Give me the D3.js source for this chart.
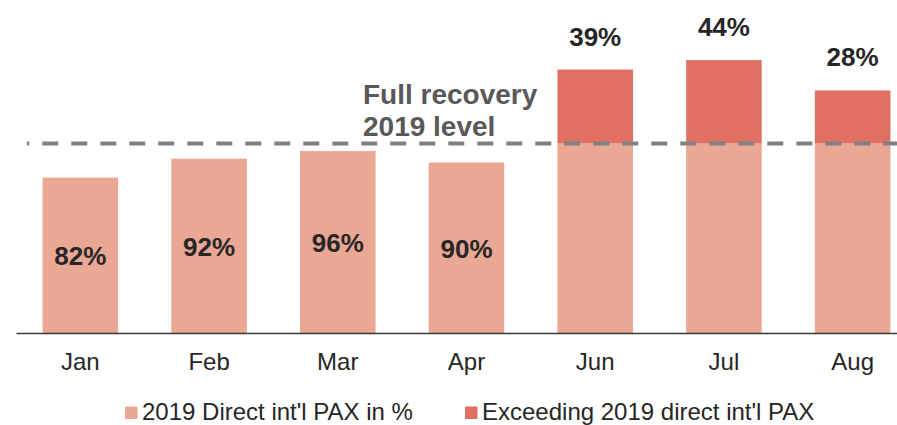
<!DOCTYPE html>
<html>
<head>
<meta charset="utf-8">
<script src="https://cdn.jsdelivr.net/npm/d3@7"></script>
<style>
  html, body { margin: 0; padding: 0; background: #ffffff; }
  svg { display: block; }
  text { font-family: "Liberation Sans", Arial, sans-serif; }
</style>
</head>
<body>
<svg id="chart" width="897" height="425"></svg>
<script>
// ---- data ----
const months = ["Jan", "Feb", "Mar", "Apr", "Jun", "Jul", "Aug"];
const basePct = [82, 92, 96, 90, 100, 100, 100];      // 2019 Direct int'l PAX in %
const excessPct = [0, 0, 0, 0, 39, 44, 28];           // Exceeding 2019 direct int'l PAX
const seriesNames = ["2019 Direct int'l PAX in %", "Exceeding 2019 direct int'l PAX"];
const recoveryLevel = 100;
const annotationLines = ["Full recovery", "2019 level"];

// ---- styles ----
const colBase = "#EAA794";
const colExcess = "#E07061";
const colText = "#262626";

const svg = d3.select("#chart");
const W = 897, H = 425;

const x = d3.scaleBand()
  .domain(months)
  .range([16, 917])
  .paddingInner(0.413)
  .paddingOuter(0.2065);

const y = d3.scaleLinear()
  .domain([0, 100])
  .range([333, 143.5]);

const rows = months.map((m, i) => ({ m, base: basePct[i], excess: excessPct[i] }));

// base bars
svg.append("g").selectAll("rect")
  .data(rows).join("rect")
  .attr("x", d => x(d.m))
  .attr("width", x.bandwidth())
  .attr("y", d => y(d.base))
  .attr("height", d => y(0) - y(d.base))
  .attr("fill", colBase);

// excess bars
svg.append("g").selectAll("rect")
  .data(rows.filter(d => d.excess > 0)).join("rect")
  .attr("x", d => x(d.m))
  .attr("width", x.bandwidth())
  .attr("y", d => y(d.base + d.excess))
  .attr("height", d => y(d.base) - y(d.base + d.excess))
  .attr("fill", colExcess);

// x axis
const xAxis = d3.axisBottom(x).tickSizeInner(0).tickSizeOuter(0);
const gx = svg.append("g")
  .attr("transform", `translate(0,${y(0)})`)
  .call(xAxis);
gx.select(".domain").attr("stroke", "#3a3a3a").attr("stroke-width", 1.3);
gx.selectAll(".tick text")
  .attr("y", 37)
  .attr("dy", 0)
  .attr("fill", colText)
  .style("font-size", "24px")
  .style("font-family", "'Liberation Sans', Arial, sans-serif");

// dashed recovery line
svg.append("line")
  .attr("x1", 27).attr("x2", W)
  .attr("y1", y(recoveryLevel)).attr("y2", y(recoveryLevel))
  .attr("stroke", "#808080")
  .attr("stroke-width", 4)
  .attr("stroke-dasharray", "16,13")
  .attr("stroke-dashoffset", 13.7);

// annotation
const ann = svg.append("text")
  .attr("x", 363)
  .attr("fill", "#595959")
  .style("font-size", "28px")
  .style("font-weight", "bold");
annotationLines.forEach((t, i) => {
  ann.append("tspan").attr("x", 363).attr("y", y(recoveryLevel) - 39.5 + i * 32).text(t);
});

// inside labels
svg.append("g").selectAll("text")
  .data(rows.filter(d => d.excess === 0)).join("text")
  .attr("x", d => x(d.m) + x.bandwidth() / 2)
  .attr("y", d => (y(d.base) + y(0)) / 2)
  .attr("dy", "0.38em")
  .attr("text-anchor", "middle")
  .attr("fill", colText)
  .style("font-size", "26px")
  .style("font-weight", "bold")
  .text(d => d.base + "%");

// top labels
svg.append("g").selectAll("text")
  .data(rows.filter(d => d.excess > 0)).join("text")
  .attr("x", d => x(d.m) + x.bandwidth() / 2)
  .attr("y", d => y(d.base + d.excess) - 24)
  .attr("text-anchor", "middle")
  .attr("fill", colText)
  .style("font-size", "26px")
  .style("font-weight", "bold")
  .text(d => d.excess + "%");

// legend
const legendX = [125, 465];
const legendColors = [colBase, colExcess];
const lg = svg.append("g");
seriesNames.forEach((name, i) => {
  lg.append("rect")
    .attr("x", legendX[i]).attr("y", 406.5)
    .attr("width", 12.5).attr("height", 12.5)
    .attr("fill", legendColors[i]);
  lg.append("text")
    .attr("x", legendX[i] + 17).attr("y", 420)
    .attr("fill", colText)
    .style("font-size", "24px")
    .text(name);
});
</script>
</body>
</html>
